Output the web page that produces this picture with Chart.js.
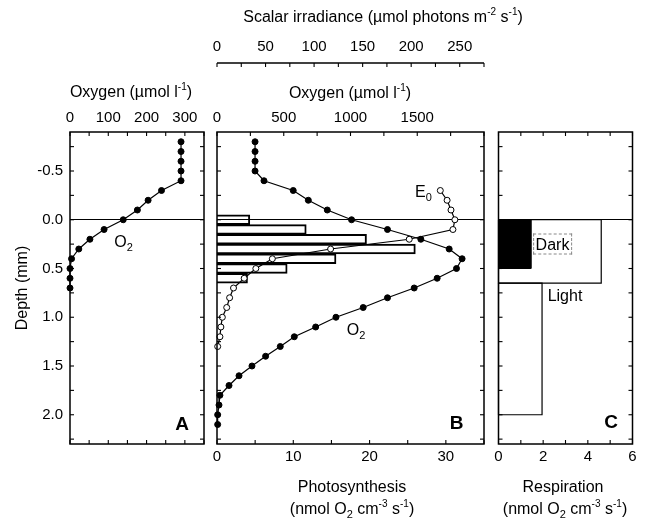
<!DOCTYPE html>
<html><head><meta charset="utf-8">
<script src="https://cdn.jsdelivr.net/npm/chart.js@4.4.0/dist/chart.umd.min.js"></script>
<style>
html,body{margin:0;padding:0;background:#fff;}
body{width:645px;height:521px;position:relative;overflow:hidden;font-family:'Liberation Sans',Arial,Helvetica,sans-serif;color:#000;}
canvas{position:absolute;top:0;}
.t{position:absolute;white-space:nowrap;transform:translate(-50%,-50%);font-size:16px;line-height:16px;}
.t sup{font-size:10px;vertical-align:0;position:relative;top:-7px;}
.t sub{font-size:11px;vertical-align:0;position:relative;top:4px;}
.big{font-weight:bold;font-size:19px;line-height:19px;}
.rot{transform:translate(-50%,-50%) rotate(-90deg);}
.box{border:1px dashed #888;padding:1px 2px;line-height:17px;}
</style></head><body>
<canvas id="cA" width="210" height="521" style="left:0"></canvas>
<canvas id="cB" width="290" height="521" style="left:205px"></canvas>
<canvas id="cC" width="155" height="521" style="left:490px"></canvas>

<div class="t" style="left:383px;top:18px">Scalar irradiance (µmol photons m<sup>-2</sup> s<sup>-1</sup>)</div>
<div class="t" style="left:131px;top:93px">Oxygen (µmol l<sup>-1</sup>)</div>
<div class="t" style="left:350px;top:94px">Oxygen (µmol l<sup>-1</sup>)</div>
<div class="t rot" style="left:22px;top:288px">Depth (mm)</div>
<div class="t" style="left:352px;top:487px">Photosynthesis</div>
<div class="t" style="left:352px;top:510px">(nmol O<sub>2</sub> cm<sup>-3</sup> s<sup>-1</sup>)</div>
<div class="t" style="left:563px;top:487px">Respiration</div>
<div class="t" style="left:565px;top:510px">(nmol O<sub>2</sub> cm<sup>-3</sup> s<sup>-1</sup>)</div>
<div class="t" style="left:123.5px;top:241.5px">O<sub>2</sub></div>
<div class="t" style="left:356px;top:330px">O<sub>2</sub></div>
<div class="t" style="left:423.5px;top:191.5px">E<sub>0</sub></div>
<div class="t big" style="left:182px;top:423px">A</div>
<div class="t big" style="left:456.5px;top:421.5px">B</div>
<div class="t big" style="left:611px;top:421px">C</div>
<div class="t box" style="left:552.5px;top:243.5px">Dark</div>
<div class="t" style="left:565px;top:296px">Light</div>

<script>
// ---------------- data ----------------
const depthRange = [-0.9, 2.3];
const depthLabels = [-0.5, 0, 0.5, 1, 1.5, 2];

// Panel A: oxygen profile (µmol l-1)
const depthA  = [-0.8,-0.7,-0.6,-0.5,-0.4,-0.3,-0.2,-0.1,0,0.1,0.2,0.3,0.4,0.5,0.6,0.7];
const oxygenA = [290,290,290,290,290,239,204,176,139,89,52,23,4,0,0,0];
const oxygenALabels = [0,100,200,300];

// Panel B: oxygen profile (µmol l-1)
const depthB  = [-0.8,-0.7,-0.6,-0.5,-0.4,-0.3,-0.2,-0.1,0,0.1,0.2,0.3,0.4,0.5,0.6,0.7,0.8,0.9,1.0,1.1,1.2,1.3,1.4,1.5,1.6,1.7,1.8,1.9,2.0,2.1];
const oxygenB = [285,285,285,285,352,571,684,826,1008,1277,1527,1739,1836,1794,1649,1477,1277,1095,891,739,579,474,364,262,165,90,22,15,5,5];
const oxygenBLabels = [0,500,1000,1500];

// Panel B: scalar irradiance E0 (µmol photons m-2 s-1)
const depthE0 = [-0.3,-0.2,-0.1,0,0.1,0.2,0.3,0.4,0.5,0.6,0.7,0.8,0.9,1.0,1.1,1.2,1.3];
const irradiance = [230,237,241,245,243,198,117,57,40,28,17,13,10,5.5,4,3,0.7];
const irradianceLabels = [0,50,100,150,200,250];

// Panel B: photosynthesis bars (nmol O2 cm-3 s-1)
const depthPhoto = [0,0.1,0.2,0.3,0.4,0.5,0.6];
const photosynthesis = [4.3,11.7,19.6,26.0,15.6,9.2,4.0];
const photoLabels = [0,10,20,30];

// Panel C: respiration layers (nmol O2 cm-3 s-1)
const lightTop = [0, 0.65];
const lightBottom = [0.65, 2.0];
const lightResp = [4.6, 1.95];
const darkTop = [0];
const darkBottom = [0.5];
const darkResp = [1.45];
const respLabels = [0,2,4,6];

// ---------------- helpers ----------------
Chart.defaults.font.family = "'Liberation Sans', Arial, Helvetica, sans-serif";
Chart.defaults.font.size = 15;
Chart.defaults.color = '#000';

const TICK = 4;
const frameTicks = {
  id: 'frameTicks',
  afterDraw(chart, args, opts) {
    const marks = opts && opts.marks; if (!marks) return;
    const {ctx, chartArea: a} = chart;
    ctx.save();
    ctx.strokeStyle = '#000';
    marks.forEach(m => {
      const s = chart.scales[m.scale];
      if (m.line) {
        ctx.lineWidth = 1.3;
        ctx.beginPath(); ctx.moveTo(s.left, s.bottom); ctx.lineTo(s.right, s.bottom); ctx.stroke();
      }
      ctx.lineWidth = 1.1;
      s.ticks.forEach(t => {
        const p = s.getPixelForValue(t.value);
        m.sides.forEach(side => {
          ctx.beginPath();
          if (side === 'left') { ctx.moveTo(a.left, p); ctx.lineTo(a.left + TICK, p); }
          else if (side === 'right') { ctx.moveTo(a.right, p); ctx.lineTo(a.right - TICK, p); }
          else if (side === 'top') { ctx.moveTo(p, a.top); ctx.lineTo(p, a.top + TICK); }
          else if (side === 'bottom') { ctx.moveTo(p, a.bottom); ctx.lineTo(p, a.bottom - TICK); }
          else if (side === 'axis') { ctx.moveTo(p, s.bottom); ctx.lineTo(p, s.bottom + TICK); }
          ctx.stroke();
        });
      });
    });
    ctx.lineWidth = 1.5;
    ctx.strokeRect(a.left, a.top, a.right - a.left, a.bottom - a.top);
    ctx.restore();
  }
};
Chart.register(frameTicks);

const labelIf = (list, fmt) => v => list.some(u => Math.abs(u - v) < 1e-9) ? (fmt ? fmt(v) : String(v)) : '';

function depthScale(showLabels) {
  return {
    type: 'linear', position: 'left', reverse: true, min: depthRange[0], max: depthRange[1], offset: false,
    afterFit: s => { s.width = showLabels ? 70 : 0; },
    border: {display: false},
    grid: {display: true, drawTicks: false, offset: false, lineWidth: 1,
      color: c => (c.tick && Math.abs(c.tick.value) < 1e-9) ? '#000' : 'rgba(0,0,0,0)'},
    ticks: {display: showLabels, stepSize: 0.25, includeBounds: false, autoSkip: false, padding: 7,
      callback: labelIf(depthLabels, v => v.toFixed(1))}
  };
}
function xScale(pos, min, max, step, labels, pad, height, extra) {
  return Object.assign({
    type: 'linear', position: pos, min, max, offset: false,
    afterFit: s => { s.height = height; },
    border: {display: false},
    grid: {display: false, drawTicks: false, offset: false},
    ticks: {stepSize: step, includeBounds: false, autoSkip: false, maxRotation: 0, minRotation: 0,
      padding: pad, callback: labelIf(labels)}
  }, extra || {});
}
function baseOptions(pad, scales, marks) {
  return {
    responsive: false, animation: false, devicePixelRatio: 1,
    layout: {padding: pad},
    plugins: {legend: {display: false}, tooltip: {enabled: false}, frameTicks: {marks}},
    scales
  };
}
const profile = (xs, ys) => ys.map((d, i) => ({x: xs[i], y: d}));
const lineStyle = (filled) => ({
  showLine: true, borderColor: '#000', borderWidth: 1.2, tension: 0, clip: false,
  pointRadius: 3, pointBorderWidth: 1, pointBorderColor: '#000',
  pointBackgroundColor: filled ? '#000' : '#fff'
});
const layer = (top, bottom, v) => [{x: 0, y: top}, {x: v, y: top}, {x: v, y: bottom}, {x: 0, y: bottom}, {x: 0, y: top}];

// ---------------- Panel A ----------------
new Chart(document.getElementById('cA'), {
  type: 'scatter',
  data: {datasets: [Object.assign({data: profile(oxygenA, depthA), xAxisID: 'xO', yAxisID: 'y'}, lineStyle(true))]},
  options: baseOptions({left: 0, right: 6, top: 0, bottom: 77}, {
    y: depthScale(true),
    xO: xScale('top', 0, 350, 50, oxygenALabels, 5, 132)
  }, [{scale: 'y', sides: ['left', 'right']}, {scale: 'xO', sides: ['top', 'bottom']}])
});

// ---------------- Panel B ----------------
new Chart(document.getElementById('cB'), {
  type: 'scatter',
  data: {datasets: [
    {type: 'bar', indexAxis: 'y', xAxisID: 'xP', yAxisID: 'y',
     data: profile(photosynthesis, depthPhoto), grouped: false,
     backgroundColor: 'rgba(255,255,255,0)', borderColor: '#000', borderWidth: 1.3,
     barPercentage: 1, categoryPercentage: 1, order: 3},
    Object.assign({data: profile(oxygenB, depthB), xAxisID: 'xO', yAxisID: 'y', order: 1}, lineStyle(true)),
    Object.assign({data: profile(irradiance, depthE0), xAxisID: 'xE', yAxisID: 'y', order: 2}, lineStyle(false))
  ]},
  options: baseOptions({left: 12, right: 11, top: 0, bottom: 0}, {
    y: depthScale(false),
    xP: xScale('bottom', 0, 35, 5, photoLabels, 4, 77),
    xO: xScale('top', 0, 2000, 250, oxygenBLabels, 5, 69, {weight: 0}),
    xE: xScale('top', 0, 275, 25, irradianceLabels, 7, 63, {weight: 1})
  }, [{scale: 'y', sides: ['left', 'right']}, {scale: 'xP', sides: ['bottom']},
      {scale: 'xO', sides: ['top']}, {scale: 'xE', sides: ['axis'], line: true}])
});

// ---------------- Panel C ----------------
const cSets = [];
darkResp.forEach((v, i) => cSets.push({data: layer(darkTop[i], darkBottom[i], v), xAxisID: 'xR', yAxisID: 'y',
  showLine: true, fill: 'shape', backgroundColor: '#000', borderColor: '#000', borderWidth: 1, pointRadius: 0, clip: false}));
lightResp.forEach((v, i) => cSets.push({data: layer(lightTop[i], lightBottom[i], v), xAxisID: 'xR', yAxisID: 'y',
  showLine: true, fill: false, borderColor: '#000', borderWidth: 1.2, pointRadius: 0, clip: false}));
new Chart(document.getElementById('cC'), {
  type: 'scatter',
  data: {datasets: cSets},
  options: baseOptions({left: 8.5, right: 12.5, top: 132, bottom: 0}, {
    y: depthScale(false),
    xR: xScale('bottom', 0, 6, 1, respLabels, 4, 77)
  }, [{scale: 'y', sides: ['left', 'right']}, {scale: 'xR', sides: ['top', 'bottom']}])
});
</script>
</body></html>
